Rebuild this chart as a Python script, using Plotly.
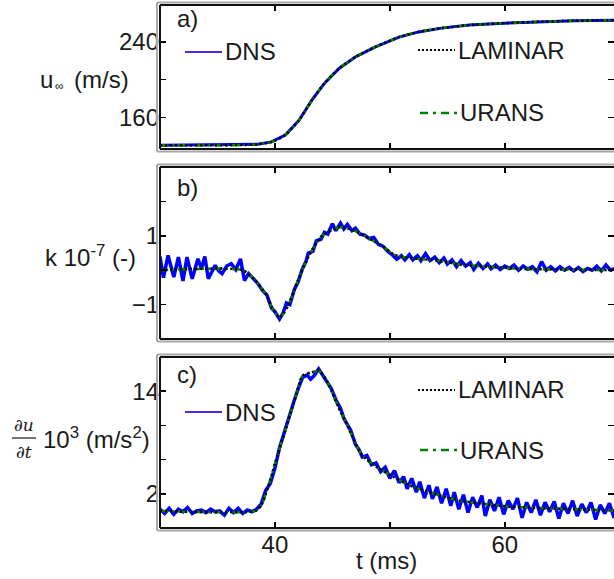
import plotly.graph_objects as go

W, H = 614, 579

# ---------------- data ----------------
# a) free-stream velocity u_inf (m/s) vs t (ms); DNS, LAMINAR, URANS coincide
A_T = [30, 37, 38.5, 39.7, 40.9, 42.1, 43.2, 44.3, 45.6, 47.0, 48.7, 50.8, 52.5, 54.5, 56.9, 59.5, 62.6, 66, 70]
A_U = [130.5, 130.7, 131.5, 134, 141.3, 157, 178, 196, 212, 224, 234.4, 245, 250.5, 254.5, 257.7, 259.5, 261, 262.3, 263]

# b) k 1e-7 (-) : smooth models
B_T = [30, 37.2, 38.3, 39.3, 39.7, 40.4, 41.1, 42.0, 42.9, 44.1, 45.6, 46.7, 48.2, 49.3, 50.4, 51.6, 54.2, 56.2, 58.6, 61.5, 65, 70]
B_LAM = [0, 0, -0.3, -0.74, -1.06, -1.38, -1.06, -0.3, 0.39, 1.0, 1.25, 1.18, 0.92, 0.71, 0.45, 0.36, 0.28, 0.16, 0.1, 0.04, 0.02, 0]
B_URANS = B_LAM
# b) DNS (noisy)
B_DNS_T = [30.0, 30.3, 30.7, 31.2, 31.6, 32.0, 32.35, 32.8, 33.3, 33.6, 33.9, 34.2, 34.8, 35.1, 35.4, 35.8, 36.2, 36.6, 37.0, 37.35,
           37.7, 38.1, 38.5, 38.9, 39.3, 39.7, 40.0, 40.4, 40.7, 41.0, 41.3, 41.7, 42.0, 42.4, 42.7, 42.9, 43.3, 43.6, 44.0, 44.3,
           44.6, 45.0, 45.3, 45.7, 46.0, 46.3, 46.7, 47.0, 47.4, 47.8, 48.2, 48.6, 49.0, 49.4, 49.8, 50.2, 50.6, 51.0, 51.3, 51.7,
           52.0, 52.4, 52.7, 53.1, 53.5, 53.9, 54.3, 54.7, 55.0, 55.4, 55.8, 56.2, 56.6, 57.0, 57.3, 57.7, 58.1, 58.5, 58.8, 59.2,
           59.6, 60.0, 60.4, 60.8, 61.2, 61.6, 62.0, 62.4, 62.8, 63.2, 63.6, 64.0, 64.4, 64.8, 65.2, 65.6, 66.0, 66.4, 66.8, 67.2,
           67.6, 68.0, 68.4, 68.8, 69.2, 69.6, 70.0]
B_DNS = [0.40, -0.22, 0.43, -0.2, 0.38, -0.31, 0.38, -0.25, 0.33, 0.05, 0.4, -0.25, 0.14, -0.02, -0.1, 0.12, 0.19, 0.02, 0.33, -0.3,
         -0.1, -0.25, -0.38, -0.58, -0.72, -1.1, -1.2, -1.42, -1.25, -0.95, -1.0, -0.55, -0.35, 0.05, 0.25, 0.5, 0.55, 0.85, 0.9, 1.1,
         1.05, 1.35, 1.15, 1.37, 1.2, 1.33, 1.15, 1.22, 1.05, 1.02, 0.92, 0.95, 0.75, 0.7, 0.55, 0.45, 0.32, 0.42, 0.3, 0.45,
         0.3, 0.42, 0.28, 0.48, 0.28, 0.38, 0.22, 0.35, 0.18, 0.3, 0.1, 0.28, 0.12, 0.22, 0.02, 0.2, 0.05, 0.18, 0.04, 0.15,
         0.02, 0.12, 0.05, 0.15, 0.0, 0.12, 0.03, 0.1, -0.05, 0.25, 0.0, 0.1, -0.02, 0.1, 0.0, 0.08, -0.02, 0.08, -0.04, 0.05,
         0.0, 0.12, -0.02, 0.15, 0.0, 0.05, 0.0]

# c) du/dt 1e3 (m/s^2) : smooth models
C_T = [30, 38.3, 38.8, 39.4, 40.0, 40.9, 41.7, 42.4, 43.2, 43.8, 44.4, 44.9, 45.5, 46.1, 46.5, 47.4, 48.0, 49.0, 50.3, 51.7,
       53.2, 54.6, 56.1, 58.0, 60.4, 64.8, 69.1, 70]
C_LAM = [0, 0, 0.6, 2.8, 5.5, 9.4, 12.9, 15.8, 16.2, 16.4, 15.5, 14.1, 12.2, 10.6, 9.4, 6.9, 6.0, 5.0, 4.0, 3.0,
         2.3, 1.7, 1.2, 0.85, 0.5, 0.25, 0.05, 0]
C_URANS = C_LAM
# c) DNS (noisy)
C_DNS_T = [30.0, 30.4, 30.8, 31.2, 31.6, 32.0, 32.4, 32.8, 33.2, 33.6, 34.0, 34.4, 34.8, 35.2, 35.6, 36.0, 36.4, 36.8, 37.2, 37.6,
           38.0, 38.4, 38.8, 39.2, 39.6, 40.0, 40.4, 40.8, 41.2, 41.6, 42.0, 42.4, 42.8, 43.1, 43.4, 43.8, 44.1, 44.5, 44.9, 45.3,
           45.7, 46.0, 46.3, 46.6, 47.0, 47.3, 47.6, 48.0, 48.4, 48.8, 49.2, 49.6, 50.0, 50.4, 50.8, 51.2, 51.5, 51.9, 52.3, 52.6,
           53.0, 53.4, 53.7, 54.1, 54.5, 54.9, 55.3, 55.6, 56.0, 56.4, 56.8, 57.2, 57.6, 58.0, 58.3, 58.7, 59.1, 59.5, 59.9, 60.3,
           60.7, 61.1, 61.5, 61.9, 62.3, 62.7, 63.1, 63.5, 63.9, 64.3, 64.7, 65.1, 65.5, 65.9, 66.3, 66.7, 67.1, 67.5, 67.9, 68.3,
           68.7, 69.1, 69.5, 70.0]
C_DNS = [0.2, -0.3, 0.3, -0.4, 0.2, -0.1, 0.4, -0.3, 0.0, 0.1, -0.2, 0.2, -0.1, 0.0, -0.5, 0.3, -0.2, 0.3, -0.3, 0.1,
         -0.1, 0.2, 0.8, 2.4, 3.2, 5.0, 7.4, 9.2, 10.8, 12.6, 14.2, 15.6, 15.9, 15.4, 15.8, 16.6, 16.0, 15.2, 14.3, 13.0,
         12.0, 10.8, 10.0, 9.4, 7.8, 7.2, 6.3, 6.5, 5.4, 5.6, 4.6, 5.1, 3.8, 4.7, 3.3, 4.0, 2.6, 3.8, 2.2, 3.4,
         1.5, 3.0, 1.4, 2.8, 0.9, 2.6, 0.6, 2.2, 0.2, 1.9, -0.2, 1.6, 0.4, 1.8, -0.6, 1.3, 0.0, 1.6, -0.4, 1.2,
         0.2, 1.5, -0.8, 1.0, -0.2, 1.3, -0.5, 1.0, -0.1, 1.1, -0.9, 0.9, -0.3, 1.2, -0.6, 0.8, -0.2, 1.0, -1.0, 0.7,
         -0.3, 0.9, -0.8, 0.2]

X_TICKS, X_MINOR = [40, 60], [50]
A_YTICKS, A_YMINOR = [160, 240], [200]
B_YTICKS, B_YMINOR = [-1, 1], [0, 2]
C_YTICKS, C_YMINOR = [2, 14], [6, 10]

# ---------------- styling ----------------
FONT = "Liberation Sans, Arial, sans-serif"
TXT = "#1a1a1a"
BLUE = "#0000ff"
LEG_BLUE = "#4a2cf0"
GREEN = "#008000"
FS = 24

def px(x):
    return x / W

def py(y):
    return 1 - y / H

X_LEFT = 160
PANELS = [(5, 149), (167, 339), (357, 528)]

fig = go.Figure()

def add_models(xa, ya, t_dns, v_dns, t_s, v_lam, v_urans, w_dns):
    fig.add_trace(go.Scatter(x=t_dns, y=v_dns, mode="lines", xaxis=xa, yaxis=ya,
                             line=dict(color=BLUE, width=w_dns), showlegend=False, hoverinfo="skip"))
    fig.add_trace(go.Scatter(x=t_s, y=v_urans, mode="lines", xaxis=xa, yaxis=ya,
                             line=dict(color=GREEN, width=2.5, dash="8px,4px,2px,4px", shape="spline", smoothing=0.6),
                             showlegend=False, hoverinfo="skip"))
    fig.add_trace(go.Scatter(x=t_s, y=v_lam, mode="lines", xaxis=xa, yaxis=ya,
                             line=dict(color="black", width=2.5, dash="2px,3px", shape="spline", smoothing=0.6),
                             showlegend=False, hoverinfo="skip"))

add_models("x", "y", A_T, A_U, A_T, A_U, A_U, 3)
add_models("x2", "y2", B_DNS_T, B_DNS, B_T, B_LAM, B_URANS, 3.5)
add_models("x3", "y3", C_DNS_T, C_DNS, C_T, C_LAM, C_URANS, 3.5)

xr = [30, 69.5]
tick_style = dict(ticks="inside", ticklen=6, tickwidth=1.5, tickcolor="black")
common_x = dict(range=xr, domain=[px(X_LEFT), 1], showgrid=False, zeroline=False, showline=False,
                mirror="ticks", tickmode="array", tickvals=X_TICKS, fixedrange=True,
                minor=dict(tickmode="array", tickvals=X_MINOR, **tick_style),
                tickfont=dict(family=FONT, size=FS, color=TXT), **tick_style)
common_y = dict(showgrid=False, zeroline=False, showline=False, mirror="ticks", fixedrange=True,
                tickmode="array", tickfont=dict(family=FONT, size=FS, color=TXT), **tick_style)

lay = {}
yinfo = [([126.5, 279], A_YTICKS, A_YMINOR), ([-2, 3], B_YTICKS, B_YMINOR), ([-2, 18], C_YTICKS, C_YMINOR)]
for i, ((y0, y1), (yr, tv, mv)) in enumerate(zip(PANELS, yinfo)):
    sx = "" if i == 0 else str(i + 1)
    xa = dict(common_x, anchor="y" + sx, showticklabels=(i == 2))
    ya = dict(common_y, anchor="x" + sx, domain=[py(y1), py(y0)], range=yr,
              tickvals=tv, minor=dict(tickmode="array", tickvals=mv, **tick_style))
    lay["xaxis" + sx] = xa
    lay["yaxis" + sx] = ya

shapes = []
for (y0, y1) in PANELS:
    # outer light-grey border
    shapes.append(dict(type="line", xref="paper", yref="paper", x0=px(X_LEFT - 3), x1=1.05,
                       y0=py(y0 - 2.5), y1=py(y0 - 2.5), line=dict(color="#a8a8a8", width=2)))
    shapes.append(dict(type="line", xref="paper", yref="paper", x0=px(X_LEFT - 3), x1=1.05,
                       y0=py(y1 + 2.5), y1=py(y1 + 2.5), line=dict(color="#a8a8a8", width=2)))
    shapes.append(dict(type="line", xref="paper", yref="paper", x0=px(X_LEFT - 3), x1=px(X_LEFT - 3),
                       y0=py(y0 - 2.5), y1=py(y1 + 2.5), line=dict(color="#a8a8a8", width=2)))
    # black frame
    shapes.append(dict(type="line", xref="paper", yref="paper", x0=px(X_LEFT), x1=1.05,
                       y0=py(y0), y1=py(y0), line=dict(color="#111111", width=2)))
    shapes.append(dict(type="line", xref="paper", yref="paper", x0=px(X_LEFT), x1=1.05,
                       y0=py(y1), y1=py(y1), line=dict(color="#111111", width=2)))
    shapes.append(dict(type="line", xref="paper", yref="paper", x0=px(X_LEFT), x1=px(X_LEFT),
                       y0=py(y0), y1=py(y1), line=dict(color="#111111", width=2)))

annotations = []

def text(x, y, s, size=FS, xanchor="left", family=FONT, color=TXT):
    annotations.append(dict(x=px(x), y=py(y), xref="paper", yref="paper", text=s, showarrow=False,
                            xanchor=xanchor, yanchor="middle", font=dict(family=family, size=size, color=color)))

def legend_item(x0, x1, y, label, color, dash, width=2):
    shapes.append(dict(type="line", xref="paper", yref="paper", x0=px(x0), x1=px(x1), y0=py(y), y1=py(y),
                       line=dict(color=color, width=width, dash=dash)))
    text(x1 + 1, y, label)

# legends panel a
legend_item(185, 222, 52, "DNS", LEG_BLUE, "solid", 2)
legend_item(418, 455, 50, "LAMINAR", "black", "2px,2px", 2)
legend_item(420, 457, 113, "URANS", GREEN, "8px,5px,3px,5px", 2.5)
# legends panel c
legend_item(185, 222, 412, "DNS", LEG_BLUE, "solid", 2)
legend_item(418, 455, 390, "LAMINAR", "black", "2px,2px", 2)
legend_item(420, 457, 450, "URANS", GREEN, "8px,5px,3px,5px", 2.5)

# panel labels
text(175, 19, "a)")
text(175, 188, "b)")
text(175, 374, "c)")

# y-axis titles (horizontal)
text(38, 80, "u", xanchor="left")
text(53, 86, "∞", size=12, xanchor="left")
text(131, 80, "(m/s)", xanchor="right")
text(90, 256, "k 10<sup>-7</sup> (-)", xanchor="center")
text(24, 425, "<i>∂u</i>", size=17, xanchor="center", family="DejaVu Serif, serif")
text(24, 452, "<i>∂t</i>", size=17, xanchor="center", family="DejaVu Serif, serif")
shapes.append(dict(type="line", xref="paper", yref="paper", x0=px(12), x1=px(36), y0=py(438), y1=py(438),
                   line=dict(color=TXT, width=1.2)))
text(97, 438, "10<sup>3</sup> (m/s<sup>2</sup>)", xanchor="center")

# x-axis title
text(387, 560, "t (ms)", xanchor="center")

fig.update_layout(width=W, height=H, margin=dict(l=0, r=0, t=0, b=0),
                  paper_bgcolor="white", plot_bgcolor="white",
                  showlegend=False, shapes=shapes, annotations=annotations, **lay)

fig.write_html("out.html", config={"displayModeBar": False, "staticPlot": True},
               post_script="document.body.style.margin='0';document.body.style.overflow='hidden';")
